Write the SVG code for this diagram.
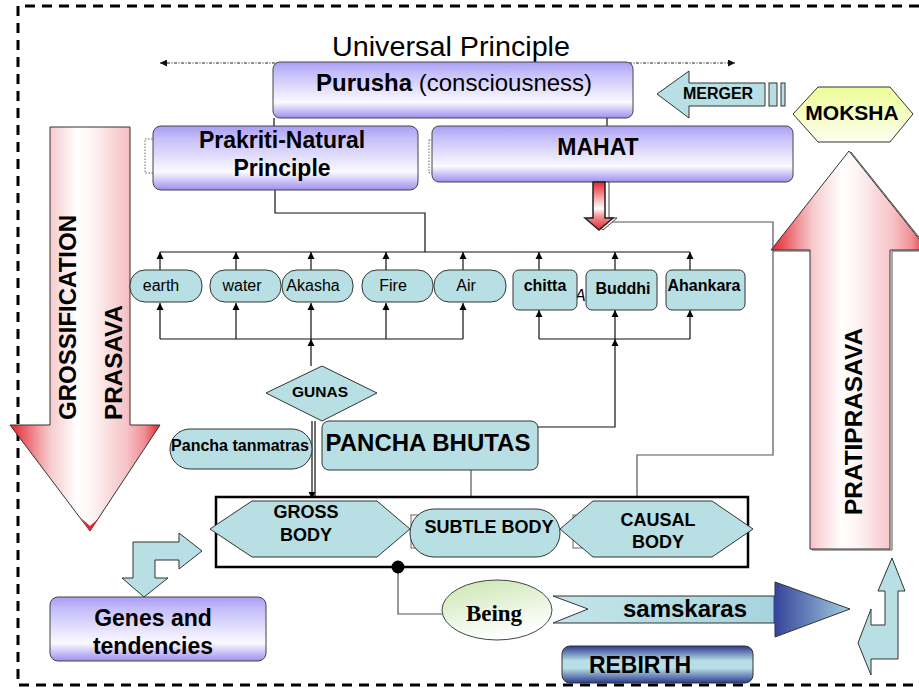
<svg xmlns="http://www.w3.org/2000/svg" width="919" height="690" viewBox="0 0 919 690">
  <style>
    .t { font-family: "Liberation Sans", Arial, sans-serif; fill: #000; }
    .b { font-weight: bold; }
    .m { text-anchor: middle; }
    .cy { fill: #b8dfe3; stroke: #333; stroke-width: 1; }
    .pu { fill: url(#gPurple); stroke: #444; stroke-width: 1; }
    .ln { fill: none; stroke: #111; stroke-width: 1.2; }
    .gl { fill: none; stroke: #555; stroke-width: 1.2; }
  </style>
  <defs>
    <linearGradient id="gPurple" x1="0" y1="0" x2="0" y2="1">
      <stop offset="0" stop-color="#a99df5"/>
      <stop offset="0.2" stop-color="#c6bff9"/>
      <stop offset="0.72" stop-color="#fbfaff"/>
      <stop offset="1" stop-color="#9c8fee"/>
    </linearGradient>
    <linearGradient id="gRedWide" x1="0" y1="0" x2="1" y2="0">
      <stop offset="0" stop-color="#e6222c"/>
      <stop offset="0.2" stop-color="#f2a3a7"/>
      <stop offset="0.27" stop-color="#f7cbcd"/>
      <stop offset="0.45" stop-color="#ffffff"/>
      <stop offset="0.55" stop-color="#fdf4f4"/>
      <stop offset="0.78" stop-color="#f6c2c5"/>
      <stop offset="0.9" stop-color="#ef8d92"/>
      <stop offset="1" stop-color="#e6222c"/>
    </linearGradient>
    <linearGradient id="gRedSmall" x1="0" y1="0" x2="0" y2="1">
      <stop offset="0" stop-color="#e3262f"/>
      <stop offset="0.55" stop-color="#ffffff"/>
      <stop offset="0.7" stop-color="#f39a9e"/>
      <stop offset="1" stop-color="#e3262f"/>
    </linearGradient>
    <linearGradient id="gMoksha" x1="0" y1="0" x2="0" y2="1">
      <stop offset="0" stop-color="#eefc96"/>
      <stop offset="1" stop-color="#fbfff0"/>
    </linearGradient>
    <linearGradient id="gBeing" x1="0" y1="0" x2="0.4" y2="1">
      <stop offset="0" stop-color="#c9e5ae"/>
      <stop offset="1" stop-color="#ffffff"/>
    </linearGradient>
    <linearGradient id="gSam" gradientUnits="userSpaceOnUse" x1="553" y1="0" x2="850" y2="0">
      <stop offset="0" stop-color="#c4e5ea"/>
      <stop offset="0.74" stop-color="#a6d4de"/>
      <stop offset="0.745" stop-color="#34439a"/>
      <stop offset="1" stop-color="#a4cfe2"/>
    </linearGradient>
    <linearGradient id="gRebirth" x1="0" y1="0" x2="0" y2="1">
      <stop offset="0" stop-color="#2b3990"/>
      <stop offset="0.4" stop-color="#b9dfe6"/>
      <stop offset="0.6" stop-color="#b9dfe6"/>
      <stop offset="1" stop-color="#2b3990"/>
    </linearGradient>
    <marker id="ah" viewBox="0 0 10 10" refX="10" refY="5" markerWidth="7" markerHeight="9" markerUnits="userSpaceOnUse" orient="auto">
      <path d="M0,0 L10,5 L0,10 Z" fill="#000"/>
    </marker>
    <marker id="ahs" viewBox="0 0 10 10" refX="10" refY="5" markerWidth="9" markerHeight="7" markerUnits="userSpaceOnUse" orient="auto-start-reverse">
      <path d="M0,0 L10,5 L0,10 Z" fill="#111"/>
    </marker>
  </defs>

  <rect width="919" height="690" fill="#ffffff"/>

  <!-- outer dashed frame -->
  <path d="M919,6 H18 V685 H919" fill="none" stroke="#000" stroke-width="3" stroke-dasharray="10 7"/>

  <!-- span of the universal principle -->
  <g id="universal">
    <path d="M160,63 H735" fill="none" stroke="#222" stroke-width="1" stroke-dasharray="3 1.5 1 1.5" marker-start="url(#ahs)" marker-end="url(#ahs)"/>
    <text class="t m" x="451" y="56" font-size="27" textLength="238" lengthAdjust="spacingAndGlyphs">Universal Principle</text>
  </g>

  <!-- large process arrows -->
  <g id="grossification">
    <path d="M50,127 H130 V425 H160 L90,531 L10,425 H50 Z" fill="url(#gRedWide)" stroke="#333" stroke-width="1"/>
    <path d="M81,518 L90,526 L99,518 L90,531 Z" fill="#e6222c"/>
    <text class="t b" font-size="23" transform="translate(76,420) rotate(-90)" textLength="205" lengthAdjust="spacingAndGlyphs">GROSSIFICATION</text>
    <text class="t b" font-size="23" transform="translate(122,420) rotate(-90)" textLength="115" lengthAdjust="spacingAndGlyphs">PRASAVA</text>
  </g>

  <g id="pratiprasava">
    <path d="M851,152 L930,251 H892 V550 H812 V251 H773 Z" fill="#ffffff" stroke="#555" stroke-width="1"/>
    <path d="M849,151 L928,250 H890 V549 H810 V250 H771 Z" fill="url(#gRedWide)" stroke="#333" stroke-width="1"/>
    <text class="t b" font-size="23" transform="translate(862,515) rotate(-90)" textLength="187" lengthAdjust="spacingAndGlyphs">PRATIPRASAVA</text>
  </g>

  <!-- connectors -->
  <g id="connectors">
    <path class="ln" d="M274,118 V126"/>
    <path class="ln" d="M607,118 V126"/>
    <path class="ln" d="M275,190 V213 H425 V252"/>
    <path class="ln" d="M160,252 H690"/>
    <path class="ln" d="M160,270 V252" marker-end="url(#ah)"/>
    <path class="ln" d="M236,270 V252" marker-end="url(#ah)"/>
    <path class="ln" d="M311,270 V252" marker-end="url(#ah)"/>
    <path class="ln" d="M386,270 V252" marker-end="url(#ah)"/>
    <path class="ln" d="M463,270 V252" marker-end="url(#ah)"/>
    <path class="ln" d="M539,270 V252" marker-end="url(#ah)"/>
    <path class="ln" d="M615,270 V252" marker-end="url(#ah)"/>
    <path class="ln" d="M690,270 V252" marker-end="url(#ah)"/>
    <path class="ln" d="M160,339 H463"/>
    <path class="ln" d="M160,339 V303" marker-end="url(#ah)"/>
    <path class="ln" d="M236,339 V303" marker-end="url(#ah)"/>
    <path class="ln" d="M311,339 V303" marker-end="url(#ah)"/>
    <path class="ln" d="M386,339 V303" marker-end="url(#ah)"/>
    <path class="ln" d="M463,339 V303" marker-end="url(#ah)"/>
    <path class="ln" d="M311,366 V339" marker-end="url(#ah)"/>
    <path class="ln" d="M539,339 H690"/>
    <path class="ln" d="M539,339 V310" marker-end="url(#ah)"/>
    <path class="ln" d="M615,339 V310" marker-end="url(#ah)"/>
    <path class="ln" d="M690,339 V310" marker-end="url(#ah)"/>
    <path class="ln" d="M538,427 H615 V339" marker-end="url(#ah)"/>
    <path class="ln" d="M312,421 V499" marker-end="url(#ah)"/>
    <path class="ln" d="M315,421 V499"/>
    <path class="gl" d="M471,470 V509"/>
    <path class="gl" d="M637,501 V455 H773 V222 H608"/>
    <path class="gl" d="M398,567 V614 H442"/>
  </g>

  <!-- top principles -->
  <g id="purusha">
    <rect class="pu" x="273" y="62" width="360" height="56" rx="7"/>
    <text class="t" x="316" y="91" font-size="24"><tspan class="b">Purusha</tspan> (consciousness)</text>
  </g>

  <g id="prakriti">
    <rect x="145" y="139" width="20" height="34" fill="none" stroke="#444" stroke-width="0.8" stroke-dasharray="1.5 1.5"/>
    <rect class="pu" x="153" y="126" width="265" height="64" rx="8"/>
    <text class="t b m" x="282" y="148" font-size="23">Prakriti-Natural</text>
    <text class="t b m" x="282" y="176" font-size="23">Principle</text>
  </g>

  <g id="mahat">
    <rect x="429" y="140" width="20" height="33" fill="none" stroke="#444" stroke-width="0.8" stroke-dasharray="1.5 1.5"/>
    <rect class="pu" x="432" y="126" width="361" height="56" rx="7"/>
    <text class="t b m" x="598" y="155" font-size="23">MAHAT</text>
  </g>

  <g id="mahat-arrow">
    <path d="M597,182 H609 V218 H617 L603,230 L589,218 H597 Z" fill="#ffffff" stroke="#444" stroke-width="1"/>
    <path d="M593,182 H605 V218 H613 L599,230 L585,218 H593 Z" fill="url(#gRedSmall)" stroke="#222" stroke-width="1.5"/>
  </g>

  <g id="merger">
    <path d="M657,94 L689,71 V83 H765 V106 H689 V118 Z" class="cy"/>
    <rect class="cy" x="769" y="83" width="8" height="23"/>
    <rect class="cy" x="781" y="83" width="4" height="23"/>
    <text class="t b m" x="718" y="99" font-size="16">MERGER</text>
  </g>

  <g id="moksha">
    <polygon points="793,114 818,87 890,87 913,114 890,142 818,142" fill="url(#gMoksha)" stroke="#333" stroke-width="1"/>
    <text class="t b m" x="852" y="120" font-size="21">MOKSHA</text>
  </g>

  <!-- elements and inner faculties -->
  <g id="earth">
    <rect class="cy" x="130" y="270" width="72" height="32" rx="15"/>
    <text class="t m" x="161" y="291" font-size="16">earth</text>
  </g>
  <g id="water">
    <rect class="cy" x="210" y="270" width="71" height="32" rx="15"/>
    <text class="t m" x="242" y="291" font-size="16">water</text>
  </g>
  <g id="akasha">
    <rect class="cy" x="282" y="270" width="71" height="32" rx="15"/>
    <text class="t m" x="313" y="291" font-size="16">Akasha</text>
  </g>
  <g id="fire">
    <rect class="cy" x="362" y="270" width="71" height="32" rx="15"/>
    <text class="t m" x="393" y="291" font-size="16">Fire</text>
  </g>
  <g id="air">
    <rect class="cy" x="434" y="270" width="72" height="32" rx="15"/>
    <text class="t m" x="466" y="291" font-size="16">Air</text>
  </g>
  <g id="chitta">
    <text class="t" x="575" y="301" font-size="16" font-style="italic" fill="#333">A</text>
    <rect class="cy" x="513" y="270" width="64" height="40" rx="6"/>
    <text class="t b m" x="545" y="291" font-size="16">chitta</text>
  </g>
  <g id="buddhi">
    <rect class="cy" x="586" y="270" width="71" height="40" rx="6"/>
    <text class="t b m" x="623" y="294" font-size="16">Buddhi</text>
  </g>
  <g id="ahankara">
    <rect class="cy" x="666" y="270" width="79" height="40" rx="6"/>
    <text class="t b m" x="704" y="291" font-size="16">Ahankara</text>
  </g>

  <g id="gunas">
    <polygon class="cy" points="266,393 322,366 377,393 322,421"/>
    <text class="t b m" x="320" y="397" font-size="15.5">GUNAS</text>
  </g>

  <g id="pancha-tanmatras">
    <rect class="cy" x="170" y="429" width="142" height="40" rx="20"/>
    <text class="t b m" x="240" y="451" font-size="16">Pancha tanmatras</text>
  </g>

  <g id="pancha-bhutas">
    <rect class="cy" x="322" y="421" width="216" height="49" rx="7"/>
    <text class="t b m" x="428" y="451" font-size="24">PANCHA BHUTAS</text>
  </g>

  <!-- the three bodies -->
  <g id="bodies">
    <rect x="216" y="497" width="532" height="70" fill="#ffffff" stroke="#000" stroke-width="2.5"/>
    <rect x="411" y="515" width="40" height="33" fill="#ffffff" stroke="#666" stroke-width="1"/>
    <rect x="573" y="515" width="40" height="33" fill="#ffffff" stroke="#666" stroke-width="1"/>
  </g>
  <g id="gross-body">
    <polygon class="cy" points="210,529 252,501 377,501 410,529 377,557 252,557"/>
    <text class="t b m" x="306" y="518" font-size="18">GROSS</text>
    <text class="t b m" x="306" y="541" font-size="18">BODY</text>
  </g>
  <g id="subtle-body">
    <rect class="cy" x="410" y="509" width="150" height="48" rx="24"/>
    <text class="t b m" x="489" y="533" font-size="18">SUBTLE BODY</text>
  </g>
  <g id="causal-body">
    <polygon class="cy" points="560,529 593,501 712,501 753,529 712,557 593,557"/>
    <text class="t b m" x="658" y="526" font-size="18">CAUSAL</text>
    <text class="t b m" x="658" y="548" font-size="18">BODY</text>
  </g>
  <circle id="junction" cx="398" cy="567" r="6.5" fill="#000"/>

  <!-- lower part -->
  <g id="bent-arrow-left">
    <path class="cy" d="M133,542 H179 V533 L202,551 L179,569 V560 H155 V578 H168 L144,597 L122,578 H133 Z"/>
  </g>

  <g id="genes">
    <rect class="pu" x="50" y="597" width="216" height="64" rx="8"/>
    <text class="t b m" x="153" y="626" font-size="23">Genes and</text>
    <text class="t b m" x="153" y="654" font-size="23">tendencies</text>
  </g>

  <g id="being">
    <ellipse cx="497" cy="610" rx="55" ry="30" fill="url(#gBeing)" stroke="#444" stroke-width="1"/>
    <text x="494" y="621" font-family="'Liberation Serif', 'Times New Roman', serif" font-weight="bold" font-size="23" text-anchor="middle">Being</text>
  </g>

  <g id="samskaras">
    <path d="M553,596 H775 V582 L850,609 L775,637 V623 H553 L588,609 Z" fill="url(#gSam)" stroke="#333" stroke-width="1"/>
    <text class="t b m" x="685" y="617" font-size="24">samskaras</text>
  </g>

  <g id="rebirth">
    <rect x="562" y="646" width="191" height="37" rx="8" fill="url(#gRebirth)" stroke="#333" stroke-width="1"/>
    <text class="t b m" x="640" y="673" font-size="23">REBIRTH</text>
  </g>

  <g id="bent-arrow-right">
    <path class="cy" d="M892,558 L905,591 H898 V659 H871 V675 L858,643 L871,609 V625 H885 V591 H878 Z"/>
  </g>
</svg>
